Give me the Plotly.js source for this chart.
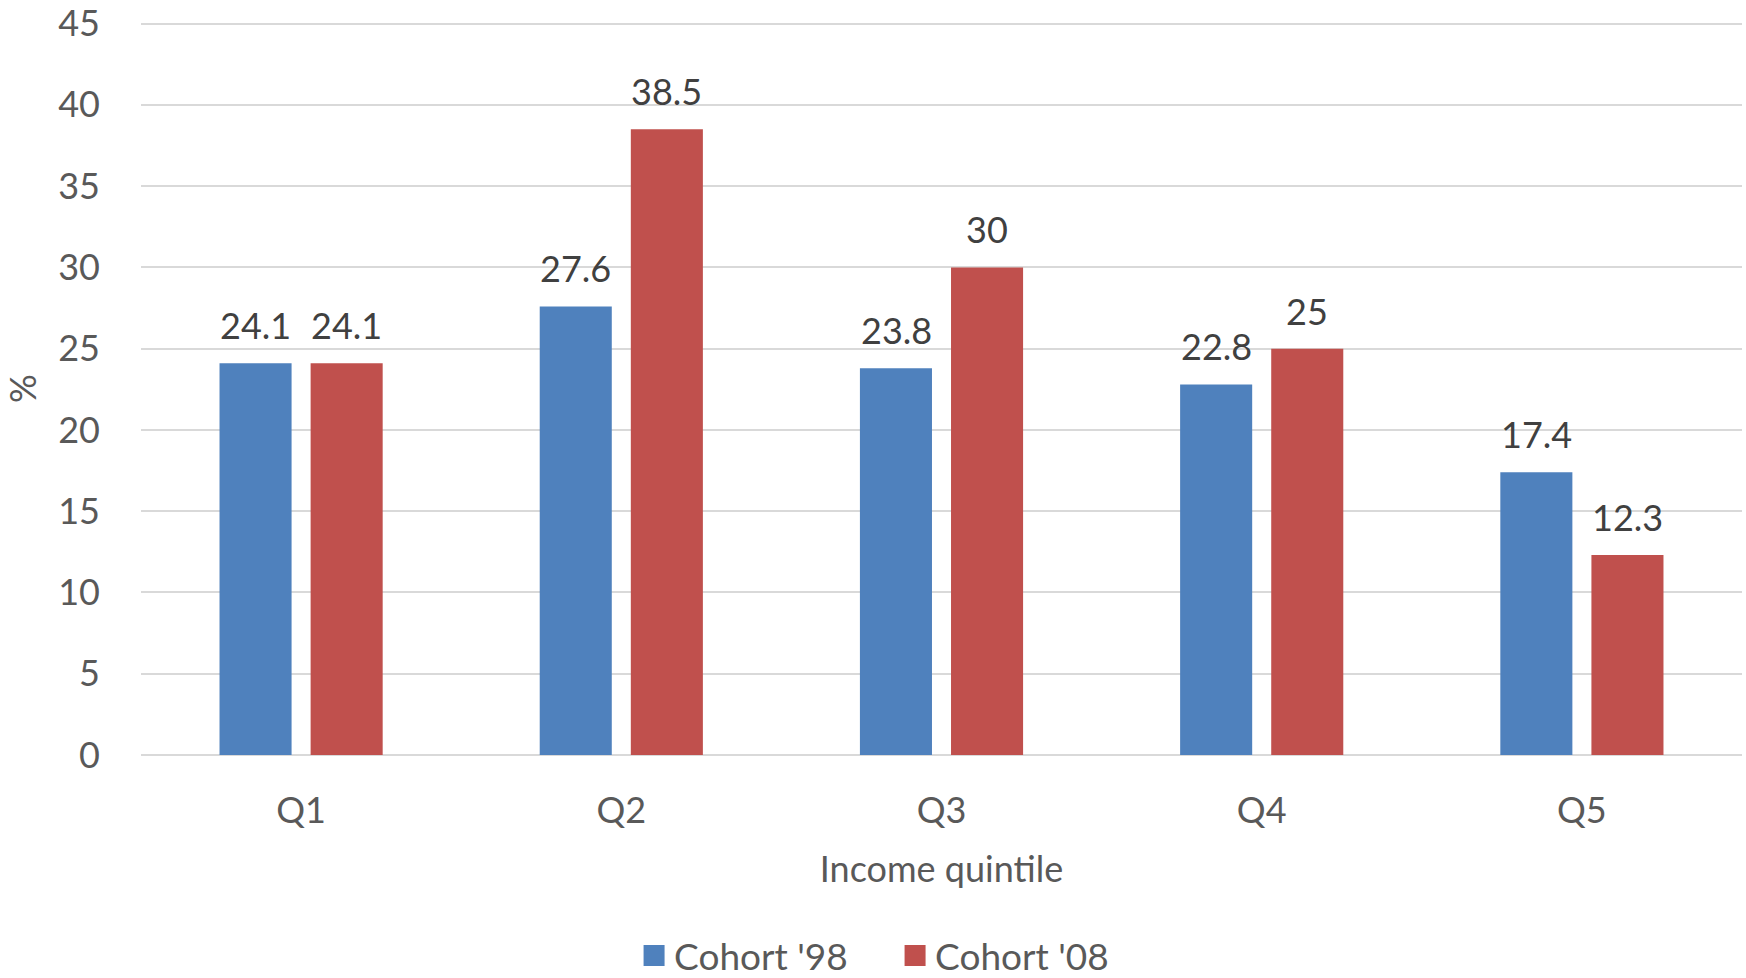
<!DOCTYPE html>
<html>
<head>
<meta charset="utf-8">
<script src="https://cdn.plot.ly/plotly-3.0.1.min.js"></script>
<style>html,body{margin:0;padding:0;background:#fff;}#chart{width:1746px;height:978px;}</style>
</head>
<body>
<div id="chart"></div>
<script>
const categories = ["Q1", "Q2", "Q3", "Q4", "Q5"];
const cohort98 = [24.1, 27.6, 23.8, 22.8, 17.4];
const cohort08 = [24.1, 38.5, 30, 25, 12.3];
const seriesNames = ["Cohort '98", "Cohort '08"];
const yTicks = [0, 5, 10, 15, 20, 25, 30, 35, 40, 45];

const FONT = "Lato, 'Open Sans', sans-serif";
const traces = [
  {type: "bar", name: seriesNames[0], x: categories, y: cohort98,
   marker: {color: "#4F81BD"}, hoverinfo: "x+y"},
  {type: "bar", name: seriesNames[1], x: categories, y: cohort08,
   marker: {color: "#C0504D"}, hoverinfo: "x+y"}
];

const annotations = [];
[cohort98, cohort08].forEach((vals, si) => {
  vals.forEach((v, i) => {
    annotations.push({
      x: categories[i], y: v, xref: "x", yref: "y",
      text: String(v), showarrow: false,
      xanchor: "center", yanchor: "bottom",
      xshift: si === 0 ? -45.5 : 45.5, yshift: 14,
      font: {family: FONT, size: 36, color: "#404040"}
    });
  });
});

const layout = {
  width: 1746, height: 978,
  paper_bgcolor: "#ffffff", plot_bgcolor: "#ffffff",
  margin: {l: 141, r: 4, t: 22, b: 223, autoexpand: false},
  font: {family: FONT, size: 36, color: "#595959"},
  barmode: "group", bargap: 0.431, bargroupgap: 0.209,
  showlegend: true,
  legend: {orientation: "h", x: 0.471, xanchor: "center", y: -0.274, yanchor: "middle",
           font: {family: FONT, size: 37, color: "#595959"}, itemwidth: 30,
           entrywidth: 216, traceorder: "normal"},
  xaxis: {
    type: "category", showgrid: false, zeroline: false, showline: false,
    ticks: "", ticklabelstandoff: 31,
    tickfont: {family: FONT, size: 36, color: "#595959"},
    title: {text: "Income quintile", font: {family: FONT, size: 36, color: "#595959"}, standoff: 26},
    automargin: false
  },
  yaxis: {
    range: [0, 45.1], tickvals: yTicks, ticktext: yTicks.map(String),
    showgrid: true, gridcolor: "#D9D9D9", gridwidth: 2,
    zeroline: true, zerolinecolor: "#D9D9D9", zerolinewidth: 2,
    showline: false, ticks: "", ticklabelstandoff: 40,
    tickfont: {family: FONT, size: 36, color: "#595959"},
    title: {text: "%", font: {family: FONT, size: 36, color: "#595959"}, standoff: 20},
    automargin: false, fixedrange: true
  },
  annotations: annotations
};

Plotly.newPlot("chart", traces, layout, {displayModeBar: false, staticPlot: true}).then(() => {
  document.querySelectorAll("#chart .legend .legendpoints path").forEach(p => {
    const t = p.getAttribute("transform") || "";
    p.setAttribute("transform", (t + " scale(1.75)").trim());
  });
});
</script>
</body>
</html>
